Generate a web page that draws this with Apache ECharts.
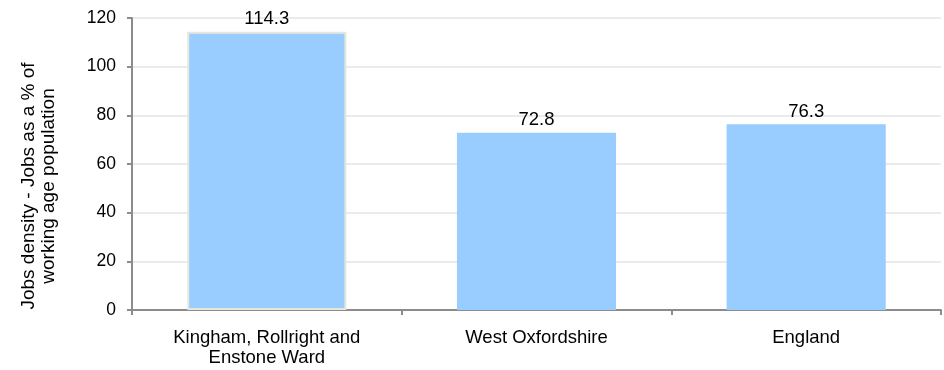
<!DOCTYPE html>
<html><head><meta charset="utf-8">
<script src="https://cdn.jsdelivr.net/npm/echarts@6/dist/echarts.min.js"></script>
<style>html,body{margin:0;padding:0;background:#fff}#c{width:944px;height:370px}</style>
</head><body><div id="c"></div>
<script>
const categories = ["Kingham, Rollright and\nEnstone Ward", "West Oxfordshire", "England"];
const values = [114.3, 72.8, 76.3];
const yTicks = { min: 0, max: 120, interval: 20 };
const yTitle = "Jobs density - Jobs as a % of\nworking age population";

const chart = echarts.init(document.getElementById('c'), null, {renderer: 'canvas'});
const font = '"Liberation Sans", Arial, sans-serif';
chart.setOption({
  animation: false,
  grid: { left: 132, right: 3, top: 18, bottom: 60, containLabel: false },
  graphic: [{
    type: 'text', x: 39, y: 186, rotation: Math.PI / 2,
    style: { text: yTitle, fill: '#000', font: '19px ' + font, textAlign: 'center', textVerticalAlign: 'middle', lineHeight: 20 }
  }],
  xAxis: {
    type: 'category', data: categories,
    axisLine: { lineStyle: { color: '#8c8c8c', width: 2 } },
    axisTick: { show: true, length: 5, alignWithLabel: false, lineStyle: { color: '#8c8c8c', width: 2 } },
    axisLabel: { color: '#000', fontFamily: font, fontSize: 18.5, margin: 18, lineHeight: 20 }
  },
  yAxis: {
    type: 'value', min: yTicks.min, max: yTicks.max, interval: yTicks.interval,
    axisLine: { show: true, lineStyle: { color: '#8c8c8c', width: 2 } },
    axisTick: { show: true, length: 5, lineStyle: { color: '#8c8c8c', width: 2 } },
    axisLabel: { color: '#000', fontFamily: font, fontSize: 17.5, margin: 16 },
    splitLine: { lineStyle: { color: '#ebebeb', width: 2 } }
  },
  series: [{
    type: 'bar', barWidth: '59%',
    data: values.map((v, i) => i === 0 ? { value: v, itemStyle: { borderColor: '#e6e6dc', borderWidth: 2 } } : v),
    itemStyle: { color: '#99ccff' },
    label: { show: true, position: 'top', color: '#000', fontFamily: font, fontSize: 18.5, distance: 3,
      formatter: p => p.value.toFixed(1) }
  }]
});
</script></body></html>
